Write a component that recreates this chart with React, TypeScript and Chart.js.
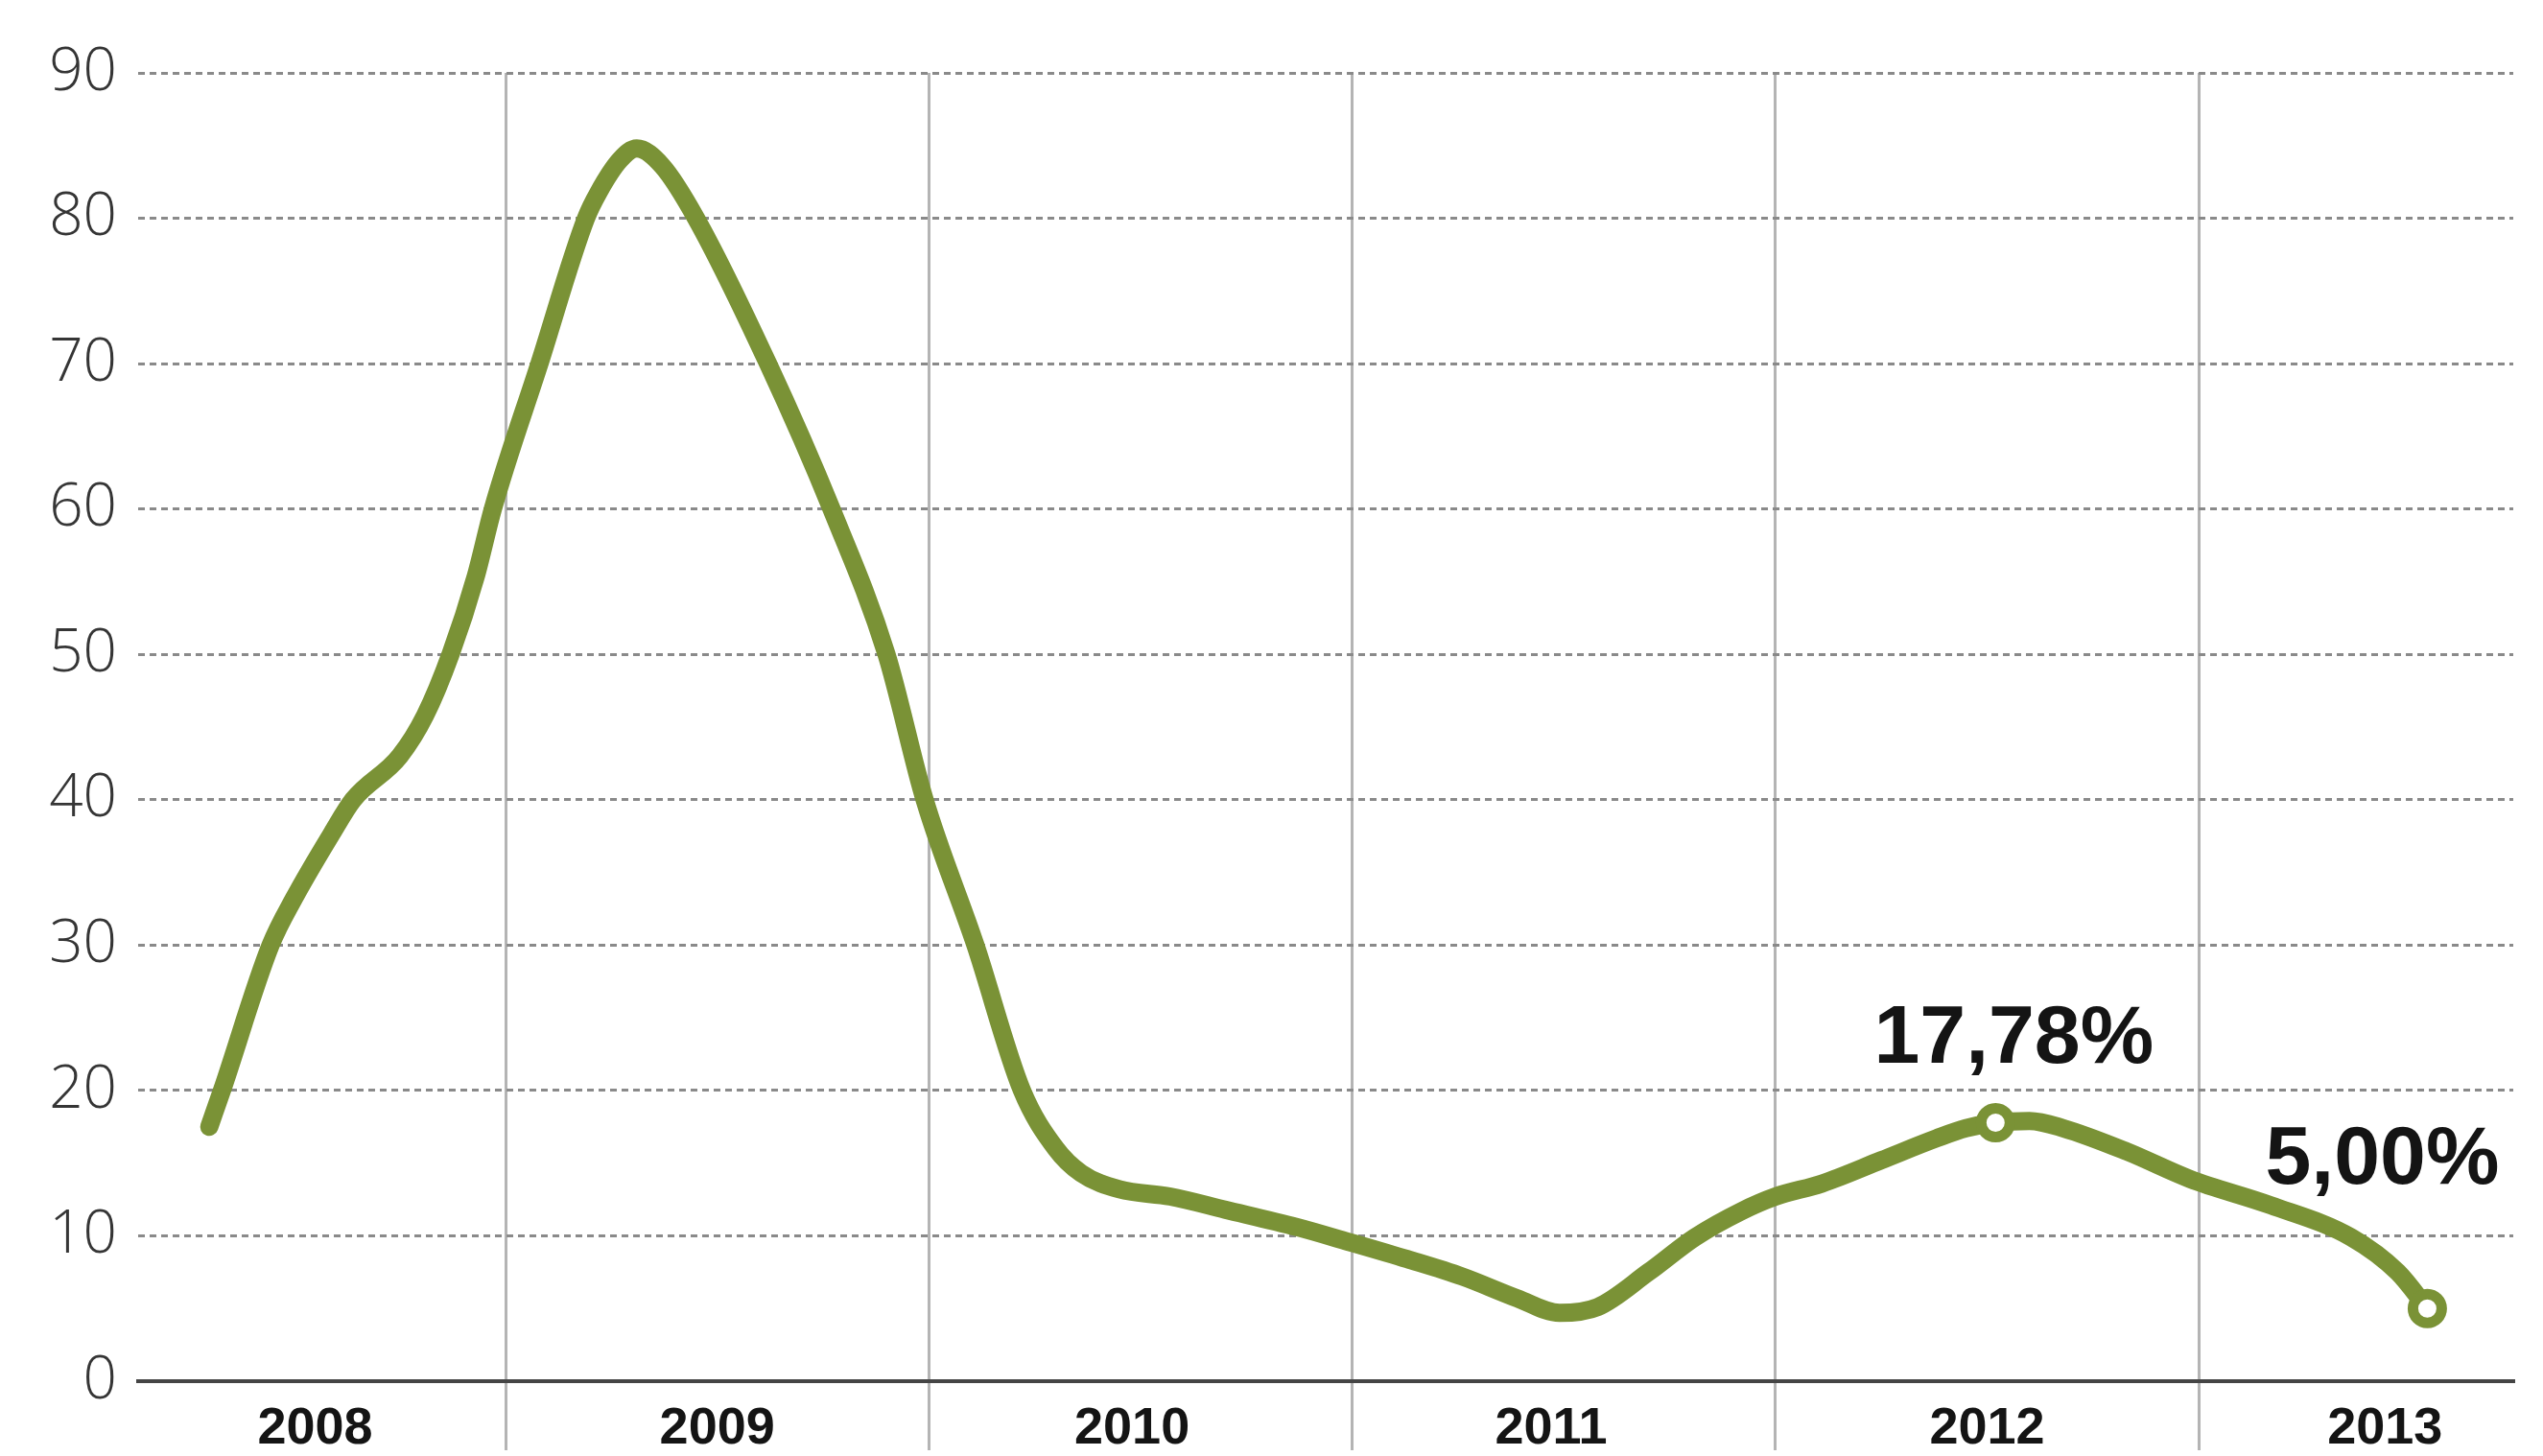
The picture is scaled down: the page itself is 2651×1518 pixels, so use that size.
import React, { useEffect, useRef } from "react";
import { Chart, registerables } from "chart.js";

Chart.register(...registerables);

// Time position of each reading, in decimal years
const periods = [
  2008.30, 2008.33, 2008.445, 2008.50, 2008.59, 2008.64, 2008.75, 2008.81, 2008.87, 2008.93,
  2008.97, 2009.08, 2009.19, 2009.22, 2009.27, 2009.31, 2009.37, 2009.45, 2009.62, 2009.77,
  2009.90, 2009.99, 2010.11, 2010.22, 2010.30, 2010.36, 2010.45, 2010.57, 2010.70, 2010.87,
  2010.99, 2011.13, 2011.26, 2011.39, 2011.49, 2011.58, 2011.70, 2011.81, 2011.92, 2012.00,
  2012.11, 2012.25, 2012.38, 2012.45, 2012.52, 2012.60, 2012.68, 2012.83, 2012.98, 2013.17,
  2013.36, 2013.47, 2013.54,
];

// Rate (%)
const rates = [
  17.5, 20, 30, 33.2, 37.7, 40, 43, 45.8, 50, 55.4,
  60, 70, 80, 81.8, 84.0, 84.8, 83.6, 80, 70, 60,
  50, 40, 30, 20, 16.0, 14.3, 13.2, 12.7, 11.8, 10.6,
  9.6, 8.4, 7.2, 5.7, 4.7, 5.1, 7.5, 9.9, 11.7, 12.7,
  13.6, 15.2, 16.7, 17.4, 17.78, 17.9, 17.4, 15.8, 13.9, 12.1,
  9.9, 7.5, 5.0,
];

const yearLabels = ["2008", "2009", "2010", "2011", "2012", "2013"];
const yearLabelPositions = [2008.55, 2009.5, 2010.48, 2011.47, 2012.5, 2013.44];
const yearBoundaries = [2009, 2010, 2011, 2012, 2013];
const yTickValues = [0, 10, 20, 30, 40, 50, 60, 70, 80, 90];

const highlightIndices = [44, 52];
const highlightTexts = ["17,78%", "5,00%"];

const X_MIN = 2008.132;
const X_MAX = 2013.743;

const LINE_COLOR = "#7a9236";

export default function App() {
  const canvasRef = useRef<HTMLCanvasElement | null>(null);

  useEffect(() => {
    const canvas = canvasRef.current;
    if (!canvas) return;

    const labelOffsets: [number, number][] = [
      [19, -63],
      [-47, -130],
    ];

    const pointLabelPlugin = {
      id: "pointLabels",
      afterDatasetsDraw(chart: any) {
        const meta = chart.getDatasetMeta(0);
        const ctx = chart.ctx;
        ctx.save();
        ctx.font = 'bold 86px "Liberation Sans", Arial, sans-serif';
        ctx.fillStyle = "#141414";
        ctx.textAlign = "center";
        ctx.textBaseline = "alphabetic";
        highlightIndices.forEach((idx, i) => {
          const el = meta.data[idx];
          if (!el) return;
          ctx.fillText(highlightTexts[i], el.x + labelOffsets[i][0], el.y + labelOffsets[i][1]);
        });
        ctx.restore();
      },
    };

    const key = (v: number) => Math.round(v * 1000);
    const labelMap = new Map<number, string>();
    yearLabelPositions.forEach((v, i) => labelMap.set(key(v), yearLabels[i]));
    const boundarySet = new Set(yearBoundaries.map(key));
    const allTicks = [...yearBoundaries, ...yearLabelPositions].sort((a, b) => a - b);

    const chart = new Chart(canvas, {
      type: "line",
      data: {
        datasets: [
          {
            data: periods.map((p, i) => ({ x: p, y: rates[i] })),
            borderColor: LINE_COLOR,
            borderWidth: 19,
            borderCapStyle: "round",
            borderJoinStyle: "round",
            cubicInterpolationMode: "monotone",
            fill: false,
            pointRadius: (ctx: any) => (highlightIndices.includes(ctx.dataIndex) ? 15 : 0),
            pointHoverRadius: (ctx: any) => (highlightIndices.includes(ctx.dataIndex) ? 15 : 0),
            pointBorderWidth: 11,
            pointBorderColor: LINE_COLOR,
            pointBackgroundColor: "#ffffff",
          } as any,
        ],
      },
      options: {
        responsive: false,
        maintainAspectRatio: false,
        animation: false,
        layout: { padding: { top: 76, right: 31, bottom: 0, left: 0 } },
        plugins: {
          legend: { display: false },
          tooltip: { enabled: false },
          title: { display: false },
        },
        scales: {
          x: {
            type: "linear",
            min: X_MIN,
            max: X_MAX,
            afterBuildTicks: (scale: any) => {
              scale.ticks = allTicks.map((v) => ({ value: v }));
            },
            afterFit: (scale: any) => {
              scale.height = 78;
            },
            grid: {
              color: (ctx: any) =>
                ctx.tick && boundarySet.has(key(ctx.tick.value)) ? "#b4b4b4" : "rgba(0,0,0,0)",
              lineWidth: 3,
              drawTicks: true,
              tickLength: 72,
            },
            border: { display: true, color: "#454545", width: 4 },
            ticks: {
              autoSkip: false,
              maxRotation: 0,
              minRotation: 0,
              padding: -54,
              color: "#141414",
              font: { family: '"Liberation Sans", Arial, sans-serif', size: 54, weight: "bold" },
              callback: (value: any) => labelMap.get(key(Number(value))) ?? "",
            },
          },
          y: {
            type: "linear",
            min: 0,
            max: 90,
            afterBuildTicks: (scale: any) => {
              scale.ticks = yTickValues.map((v) => ({ value: v }));
            },
            afterFit: (scale: any) => {
              scale.width = 144;
            },
            grid: {
              color: (ctx: any) => (ctx.tick && ctx.tick.value === 0 ? "rgba(0,0,0,0)" : "#8a8a8a"),
              lineWidth: 3,
              drawTicks: false,
            },
            border: { display: false, dash: [7, 5] },
            ticks: {
              padding: 22,
              color: "#353535",
              font: { family: '"Open Sans", "Noto Sans", sans-serif', size: 62, weight: "300" },
            },
          },
        },
      } as any,
      plugins: [pointLabelPlugin],
    });

    return () => {
      chart.destroy();
    };
  }, []);

  return (
    <div
      style={{
        position: "absolute",
        left: 0,
        top: 0,
        width: 2651,
        height: 1518,
        background: "#ffffff",
      }}
    >
      <canvas ref={canvasRef} width={2651} height={1518} style={{ display: "block" }} />
    </div>
  );
}
